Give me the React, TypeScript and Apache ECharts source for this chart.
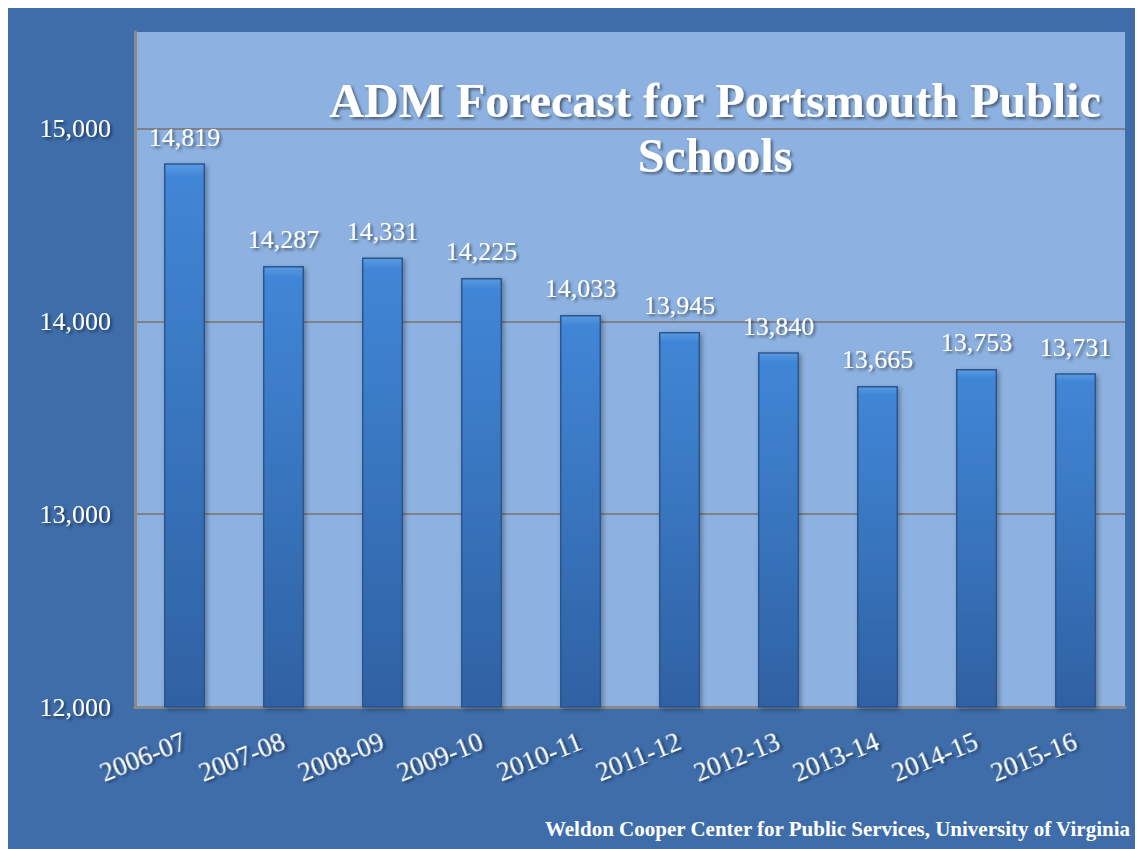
import React, { useEffect, useRef } from "react";
import * as echarts from "echarts";

const categories = ["2006-07", "2007-08", "2008-09", "2009-10", "2010-11", "2011-12", "2012-13", "2013-14", "2014-15", "2015-16"];
const admValues = [14819, 14287, 14331, 14225, 14033, 13945, 13840, 13665, 13753, 13731];
const yTicks = [12000, 13000, 14000, 15000];
const titleLines = ["ADM Forecast for Portsmouth Public", "Schools"];
const footerText = "Weldon Cooper Center for Public Services, University of Virginia";

const fmt = (v: number) => v.toLocaleString("en-US");
const SERIF = "Liberation Serif, Times New Roman, serif";
const shadow = { textShadowColor: "rgba(0,0,0,0.5)", textShadowBlur: 3, textShadowOffsetX: 2, textShadowOffsetY: 2 };

export default function App() {
  const ref = useRef<HTMLDivElement>(null);
  useEffect(() => {
    if (!ref.current) return;
    const chart = echarts.init(ref.current, null, { renderer: "svg" });
    chart.setOption({
      animation: false,
      backgroundColor: "#3e6daa",
      textStyle: { fontFamily: SERIF },
      title: {
        text: titleLines.join("\n"),
        left: 702,
        top: 60,
        textAlign: "center",
        textStyle: {
          color: "#ffffff",
          fontFamily: SERIF,
          fontWeight: "bold",
          fontSize: 48,
          lineHeight: 55,
          ...shadow,
        },
      },
      graphic: [
        {
          type: "text",
          x: 1122,
          y: 821,
          style: {
            text: footerText,
            fill: "#ffffff",
            fontFamily: SERIF,
            fontWeight: "bold",
            fontSize: 21,
            align: "right",
            verticalAlign: "middle",
          },
        },
      ],
      grid: { left: 127, right: 18, top: 24, bottom: 142, show: true, backgroundColor: "#8db2e1", borderWidth: 0 },
      xAxis: {
        type: "category",
        data: categories,
        axisLine: { lineStyle: { color: "#8a8a8a", width: 3 } },
        axisTick: { show: false },
        axisLabel: {
          color: "#ffffff",
          fontFamily: SERIF,
          fontSize: 27,
          rotate: 22,
          margin: 33,
          ...shadow,
        },
      },
      yAxis: {
        type: "value",
        min: 12000,
        max: 15500,
        interval: 1000,
        axisLine: { show: true, lineStyle: { color: "#8a8a8a", width: 3 } },
        axisTick: { show: false },
        axisLabel: {
          color: "#ffffff",
          fontFamily: SERIF,
          fontSize: 26,
          margin: 24,
          showMaxLabel: false,
          formatter: (v: number) => (yTicks.includes(v) ? fmt(v) : ""),
          ...shadow,
        },
        splitLine: { showMaxLine: false, lineStyle: { color: "#7f8288", width: 2 } },
      },
      series: [
        {
          type: "bar",
          data: admValues,
          barWidth: 41,
          itemStyle: {
            color: new echarts.graphic.LinearGradient(0, 0, 0, 1, [
              { offset: 0, color: "#5a9ae2" },
              { offset: 0.025, color: "#4086d6" },
              { offset: 1, color: "#2f61a3" },
            ]),
            borderColor: "#2b568f",
            borderWidth: 1.5,
            shadowColor: "rgba(0,0,0,0.35)",
            shadowBlur: 5,
            shadowOffsetX: 2,
            shadowOffsetY: 2,
          },
          label: {
            show: true,
            position: "top",
            distance: 13,
            color: "#ffffff",
            fontFamily: SERIF,
            fontSize: 26,
            formatter: (p: any) => fmt(p.value),
            ...shadow,
          },
        },
      ],
    });
    return () => chart.dispose();
  }, []);
  return <div ref={ref} style={{ width: 1135, height: 841 }} />;
}
